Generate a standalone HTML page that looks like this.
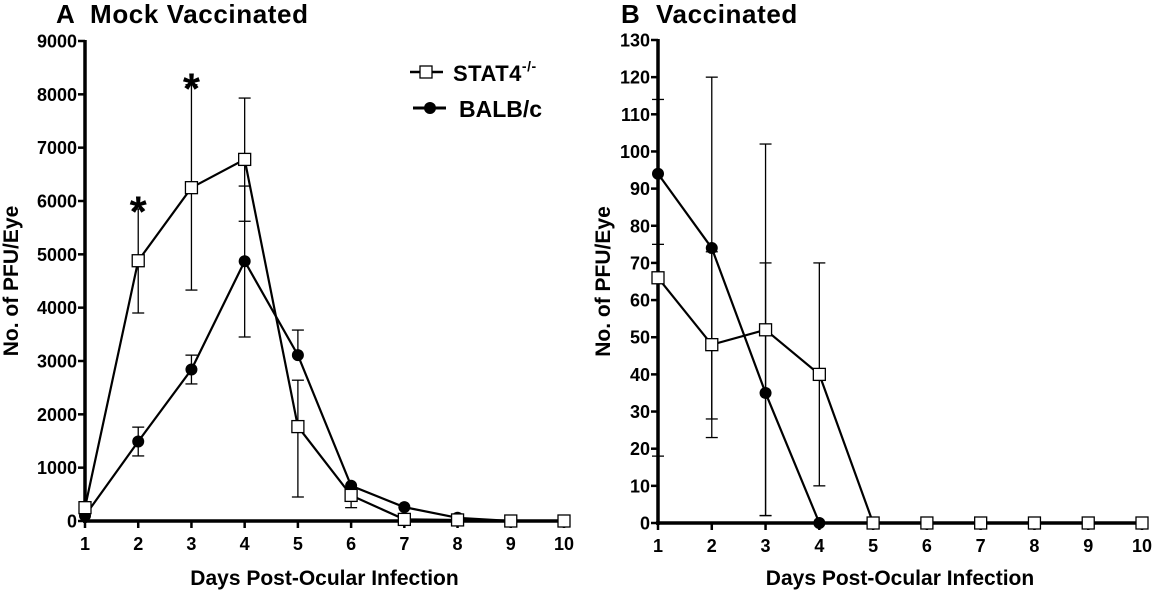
<!DOCTYPE html>
<html><head><meta charset="utf-8"><style>
html,body{margin:0;padding:0;background:#fff;width:1156px;height:590px;overflow:hidden}
svg{display:block;font-family:"Liberation Sans",Arial,sans-serif;font-weight:bold}
</style></head><body>
<svg id="c" width="1156" height="590" viewBox="0 0 1156 590"></svg>
<script>
const days = [1,2,3,4,5,6,7,8,9,10];
// Panel A
const aStat = [250,4880,6250,6780,1770,480,30,20,0,0];
const aStatLo = [null,3900,4330,5620,450,250,null,null,null,null];
const aStatHi = [null,5850,8180,7930,2640,null,null,null,null,null];
const aBalb = [100,1490,2840,4870,3110,660,260,60,0,0];
const aBalbLo = [null,1220,2570,3450,null,null,null,null,null,null];
const aBalbHi = [null,1760,3110,6280,3580,null,null,null,null,null];
const aTicks = [0,1000,2000,3000,4000,5000,6000,7000,8000,9000];
// Panel B
const bStat = [66,48,52,40,0,0,0,0,0,0];
const bStatLo = [18,23,2,10,null,null,null,null,null,null];
const bStatHi = [75,73,102,70,null,null,null,null,null,null];
const bBalb = [94,74,35,0,null,null,null,null,null,null];
const bBalbLo = [null,28,2,null,null,null,null,null,null,null];
const bBalbHi = [114,120,70,null,null,null,null,null,null,null];
const bTicks = [0,10,20,30,40,50,60,70,80,90,100,110,120,130];

const svg = document.getElementById('c');
const NS = 'http://www.w3.org/2000/svg';
function mk(tag, attrs, parent){const e=document.createElementNS(NS,tag);for(const k in attrs)e.setAttribute(k,attrs[k]);(parent||svg).appendChild(e);return e;}

function panel(cfg){
  const g = mk('g',{});
  
  
  const X = d => cfg.x0 + (d-1)*(cfg.x1-cfg.x0)/9;
  const Y = v => cfg.y0 - v*(cfg.y0-cfg.yTop)/cfg.yMax;
  const t = mk('text',{x:cfg.tx,y:23,'font-size':26,'letter-spacing':0.6,style:'white-space:pre'},g); t.textContent=cfg.title;
   
  const ya = mk('line',{x1:cfg.x0,y1:Y(cfg.yMax)-1,x2:cfg.x0,y2:cfg.y0+2,stroke:'#000','stroke-width':3.5},g);
   
  const xa = mk('line',{x1:cfg.x0-2,y1:cfg.y0,x2:cfg.x1+2,y2:cfg.y0,stroke:'#000','stroke-width':3.5},g);
   
  cfg.ticks.forEach(v=>{
    mk('line',{x1:cfg.x0-7,y1:Y(v),x2:cfg.x0,y2:Y(v),stroke:'#000','stroke-width':2.5},g);
    const l = mk('text',{x:cfg.x0-8,y:Y(v)+6.5,'font-size':18,'text-anchor':'end'},g); l.textContent=v;
     
  });
  days.forEach(d=>{
    mk('line',{x1:X(d),y1:cfg.y0,x2:X(d),y2:cfg.y0+7,stroke:'#000','stroke-width':2.5},g);
    const l = mk('text',{x:X(d),y:cfg.y0+29,'font-size':18,'text-anchor':'middle'},g); l.textContent=d;
     
  });
  const xt = mk('text',{x:(cfg.x0+cfg.x1)/2,y:585,'font-size':21,'text-anchor':'middle'},g); xt.textContent='Days Post-Ocular Infection';
   
  const yt = mk('text',{x:0,y:0,'font-size':21,'text-anchor':'middle',transform:`translate(${cfg.ytx},${(cfg.y0+cfg.yTop)/2}) rotate(-90)`},g); yt.textContent='No. of PFU/Eye';
   
  function errs(vals,lo,hi){
    vals.forEach((v,i)=>{
      if(v===null) return;
      const x=X(days[i]);
      [lo[i],hi[i]].forEach(e=>{
        if(e===null) return;
        const b = mk('line',{x1:x,y1:Y(v),x2:x,y2:Y(e),stroke:'#000','stroke-width':1.3},g);
         
        mk('line',{x1:x-6,y1:Y(e),x2:x+6,y2:Y(e),stroke:'#000','stroke-width':1.3},g);
      });
    });
  }
  errs(cfg.balb,cfg.balbLo,cfg.balbHi);
  errs(cfg.stat,cfg.statLo,cfg.statHi);
  function line(vals,name){
    const pts=[];vals.forEach((v,i)=>{if(v!==null)pts.push(X(days[i])+','+Y(v));});
    const p = mk('polyline',{points:pts.join(' '),fill:'none',stroke:'#000','stroke-width':2.2},g);
     
  }
  line(cfg.balb,'balbc-line');
  line(cfg.stat,'stat4-line');
  cfg.balb.forEach((v,i)=>{ if(v===null)return;
    const c = mk('circle',{cx:X(days[i]),cy:Y(v),r:6,fill:'#000'},g);
     
  });
  cfg.stat.forEach((v,i)=>{ if(v===null)return;
    const r = mk('rect',{x:X(days[i])-6,y:Y(v)-6,width:12,height:12,fill:'#fff',stroke:'#000','stroke-width':1.3},g);
     
  });
  return {X,Y,g};
}

const A = panel({name:'panel-a-mock-vaccinated',title:'A  Mock Vaccinated',tx:56,x0:85,x1:564,y0:521,yTop:41,yMax:9000,ticks:aTicks,ytx:18,
  stat:aStat,statLo:aStatLo,statHi:aStatHi,balb:aBalb,balbLo:aBalbLo,balbHi:aBalbHi});
const B = panel({name:'panel-b-vaccinated',title:'B  Vaccinated',tx:621,x0:658,x1:1142,y0:523,yTop:40,yMax:130,ticks:bTicks,ytx:610,
  stat:bStat,statLo:bStatLo,statHi:bStatHi,balb:bBalb,balbLo:bBalbLo,balbHi:bBalbHi});

[[2,6050],[3,8350]].forEach(([d,v])=>{
  const s = mk('text',{x:A.X(d),y:A.Y(v)+28,'font-size':44,'text-anchor':'middle'});
  s.textContent='*';
   
});
const lg = mk('g',{});
 
mk('line',{x1:410,y1:72,x2:443,y2:72,stroke:'#000','stroke-width':2.5},lg);
mk('rect',{x:420,y:66,width:12,height:12,fill:'#fff',stroke:'#000','stroke-width':1.3},lg);
const l1 = mk('text',{x:453,y:81,'font-size':22,'letter-spacing':0.5},lg); l1.innerHTML='STAT4<tspan dy="-10" font-size="14">-/-</tspan>';
 
mk('line',{x1:413,y1:108,x2:446,y2:108,stroke:'#000','stroke-width':3},lg);
mk('circle',{cx:430,cy:108,r:6,fill:'#000'},lg);
const l2 = mk('text',{x:459,y:117,'font-size':23},lg); l2.textContent='BALB/c';
 
</script>
</body></html>
